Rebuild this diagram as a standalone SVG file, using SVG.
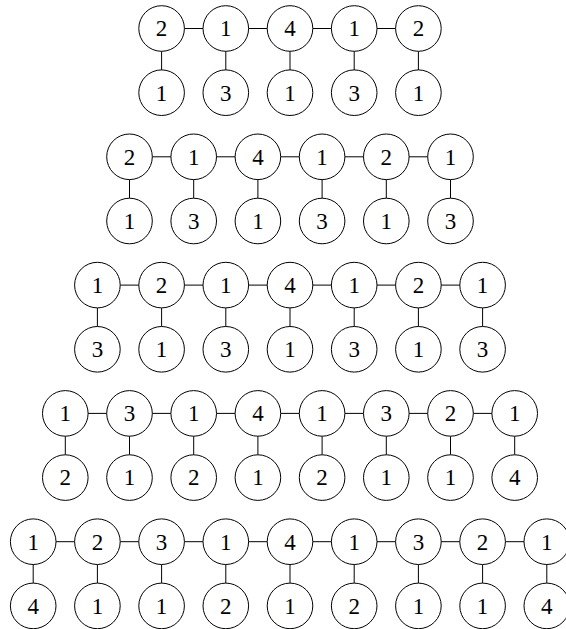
<svg xmlns="http://www.w3.org/2000/svg" width="566" height="629" viewBox="0 0 566 629">
<style>
circle{fill:#fff;stroke:#000;stroke-width:1}
text{font-family:"Liberation Serif","DejaVu Serif",serif;font-size:23px;text-anchor:middle;fill:#000}
.c{stroke:#000;stroke-width:1;fill:none}
</style>
<rect width="566" height="629" fill="#fff"/>
<g id="connectors">
<path class="c" d="M184.3 28.5h18.8m45.4 0h18.8m45.4 0h18.8m45.4 0h18.8 M161.6 51.2v18.8m64.2 -18.8v18.8m64.2 -18.8v18.8m64.2 -18.8v18.8m64.2 -18.8v18.8"/>
<path class="c" d="M152.2 156.8h18.8m45.4 0h18.8m45.4 0h18.8m45.4 0h18.8m45.4 0h18.8 M129.5 179.5v18.8m64.2 -18.8v18.8m64.2 -18.8v18.8m64.2 -18.8v18.8m64.2 -18.8v18.8m64.2 -18.8v18.8"/>
<path class="c" d="M120.1 285.1h18.8m45.4 0h18.8m45.4 0h18.8m45.4 0h18.8m45.4 0h18.8m45.4 0h18.8 M97.4 307.8v18.8m64.2 -18.8v18.8m64.2 -18.8v18.8m64.2 -18.8v18.8m64.2 -18.8v18.8m64.2 -18.8v18.8m64.2 -18.8v18.8"/>
<path class="c" d="M88 413.4h18.8m45.4 0h18.8m45.4 0h18.8m45.4 0h18.8m45.4 0h18.8m45.4 0h18.8m45.4 0h18.8 M65.3 436.1v18.8m64.2 -18.8v18.8m64.2 -18.8v18.8m64.2 -18.8v18.8m64.2 -18.8v18.8m64.2 -18.8v18.8m64.2 -18.8v18.8m64.2 -18.8v18.8"/>
<path class="c" d="M55.9 541.7h18.8m45.4 0h18.8m45.4 0h18.8m45.4 0h18.8m45.4 0h18.8m45.4 0h18.8m45.4 0h18.8m45.4 0h18.8 M33.2 564.4v18.8m64.2 -18.8v18.8m64.2 -18.8v18.8m64.2 -18.8v18.8m64.2 -18.8v18.8m64.2 -18.8v18.8m64.2 -18.8v18.8m64.2 -18.8v18.8m64.2 -18.8v18.8"/>
</g>
<!-- Row 1 -->
<g id="r1t1"><circle cx="161.6" cy="28.5" r="22.8"/><text x="161.6" y="36.3">2</text></g>
<g id="r1t2"><circle cx="225.8" cy="28.5" r="22.8"/><text x="225.8" y="36.3">1</text></g>
<g id="r1t3"><circle cx="290" cy="28.5" r="22.8"/><text x="290" y="36.3">4</text></g>
<g id="r1t4"><circle cx="354.2" cy="28.5" r="22.8"/><text x="354.2" y="36.3">1</text></g>
<g id="r1t5"><circle cx="418.4" cy="28.5" r="22.8"/><text x="418.4" y="36.3">2</text></g>
<g id="r1b1"><circle cx="161.6" cy="92.7" r="22.8"/><text x="161.6" y="100.5">1</text></g>
<g id="r1b2"><circle cx="225.8" cy="92.7" r="22.8"/><text x="225.8" y="100.5">3</text></g>
<g id="r1b3"><circle cx="290" cy="92.7" r="22.8"/><text x="290" y="100.5">1</text></g>
<g id="r1b4"><circle cx="354.2" cy="92.7" r="22.8"/><text x="354.2" y="100.5">3</text></g>
<g id="r1b5"><circle cx="418.4" cy="92.7" r="22.8"/><text x="418.4" y="100.5">1</text></g>
<!-- Row 2 -->
<g id="r2t1"><circle cx="129.5" cy="156.8" r="22.8"/><text x="129.5" y="164.6">2</text></g>
<g id="r2t2"><circle cx="193.7" cy="156.8" r="22.8"/><text x="193.7" y="164.6">1</text></g>
<g id="r2t3"><circle cx="257.9" cy="156.8" r="22.8"/><text x="257.9" y="164.6">4</text></g>
<g id="r2t4"><circle cx="322.1" cy="156.8" r="22.8"/><text x="322.1" y="164.6">1</text></g>
<g id="r2t5"><circle cx="386.3" cy="156.8" r="22.8"/><text x="386.3" y="164.6">2</text></g>
<g id="r2t6"><circle cx="450.5" cy="156.8" r="22.8"/><text x="450.5" y="164.6">1</text></g>
<g id="r2b1"><circle cx="129.5" cy="221" r="22.8"/><text x="129.5" y="228.8">1</text></g>
<g id="r2b2"><circle cx="193.7" cy="221" r="22.8"/><text x="193.7" y="228.8">3</text></g>
<g id="r2b3"><circle cx="257.9" cy="221" r="22.8"/><text x="257.9" y="228.8">1</text></g>
<g id="r2b4"><circle cx="322.1" cy="221" r="22.8"/><text x="322.1" y="228.8">3</text></g>
<g id="r2b5"><circle cx="386.3" cy="221" r="22.8"/><text x="386.3" y="228.8">1</text></g>
<g id="r2b6"><circle cx="450.5" cy="221" r="22.8"/><text x="450.5" y="228.8">3</text></g>
<!-- Row 3 -->
<g id="r3t1"><circle cx="97.4" cy="285.1" r="22.8"/><text x="97.4" y="292.9">1</text></g>
<g id="r3t2"><circle cx="161.6" cy="285.1" r="22.8"/><text x="161.6" y="292.9">2</text></g>
<g id="r3t3"><circle cx="225.8" cy="285.1" r="22.8"/><text x="225.8" y="292.9">1</text></g>
<g id="r3t4"><circle cx="290" cy="285.1" r="22.8"/><text x="290" y="292.9">4</text></g>
<g id="r3t5"><circle cx="354.2" cy="285.1" r="22.8"/><text x="354.2" y="292.9">1</text></g>
<g id="r3t6"><circle cx="418.4" cy="285.1" r="22.8"/><text x="418.4" y="292.9">2</text></g>
<g id="r3t7"><circle cx="482.6" cy="285.1" r="22.8"/><text x="482.6" y="292.9">1</text></g>
<g id="r3b1"><circle cx="97.4" cy="349.3" r="22.8"/><text x="97.4" y="357.1">3</text></g>
<g id="r3b2"><circle cx="161.6" cy="349.3" r="22.8"/><text x="161.6" y="357.1">1</text></g>
<g id="r3b3"><circle cx="225.8" cy="349.3" r="22.8"/><text x="225.8" y="357.1">3</text></g>
<g id="r3b4"><circle cx="290" cy="349.3" r="22.8"/><text x="290" y="357.1">1</text></g>
<g id="r3b5"><circle cx="354.2" cy="349.3" r="22.8"/><text x="354.2" y="357.1">3</text></g>
<g id="r3b6"><circle cx="418.4" cy="349.3" r="22.8"/><text x="418.4" y="357.1">1</text></g>
<g id="r3b7"><circle cx="482.6" cy="349.3" r="22.8"/><text x="482.6" y="357.1">3</text></g>
<!-- Row 4 -->
<g id="r4t1"><circle cx="65.3" cy="413.4" r="22.8"/><text x="65.3" y="421.2">1</text></g>
<g id="r4t2"><circle cx="129.5" cy="413.4" r="22.8"/><text x="129.5" y="421.2">3</text></g>
<g id="r4t3"><circle cx="193.7" cy="413.4" r="22.8"/><text x="193.7" y="421.2">1</text></g>
<g id="r4t4"><circle cx="257.9" cy="413.4" r="22.8"/><text x="257.9" y="421.2">4</text></g>
<g id="r4t5"><circle cx="322.1" cy="413.4" r="22.8"/><text x="322.1" y="421.2">1</text></g>
<g id="r4t6"><circle cx="386.3" cy="413.4" r="22.8"/><text x="386.3" y="421.2">3</text></g>
<g id="r4t7"><circle cx="450.5" cy="413.4" r="22.8"/><text x="450.5" y="421.2">2</text></g>
<g id="r4t8"><circle cx="514.7" cy="413.4" r="22.8"/><text x="514.7" y="421.2">1</text></g>
<g id="r4b1"><circle cx="65.3" cy="477.6" r="22.8"/><text x="65.3" y="485.4">2</text></g>
<g id="r4b2"><circle cx="129.5" cy="477.6" r="22.8"/><text x="129.5" y="485.4">1</text></g>
<g id="r4b3"><circle cx="193.7" cy="477.6" r="22.8"/><text x="193.7" y="485.4">2</text></g>
<g id="r4b4"><circle cx="257.9" cy="477.6" r="22.8"/><text x="257.9" y="485.4">1</text></g>
<g id="r4b5"><circle cx="322.1" cy="477.6" r="22.8"/><text x="322.1" y="485.4">2</text></g>
<g id="r4b6"><circle cx="386.3" cy="477.6" r="22.8"/><text x="386.3" y="485.4">1</text></g>
<g id="r4b7"><circle cx="450.5" cy="477.6" r="22.8"/><text x="450.5" y="485.4">1</text></g>
<g id="r4b8"><circle cx="514.7" cy="477.6" r="22.8"/><text x="514.7" y="485.4">4</text></g>
<!-- Row 5 -->
<g id="r5t1"><circle cx="33.2" cy="541.7" r="22.8"/><text x="33.2" y="549.5">1</text></g>
<g id="r5t2"><circle cx="97.4" cy="541.7" r="22.8"/><text x="97.4" y="549.5">2</text></g>
<g id="r5t3"><circle cx="161.6" cy="541.7" r="22.8"/><text x="161.6" y="549.5">3</text></g>
<g id="r5t4"><circle cx="225.8" cy="541.7" r="22.8"/><text x="225.8" y="549.5">1</text></g>
<g id="r5t5"><circle cx="290" cy="541.7" r="22.8"/><text x="290" y="549.5">4</text></g>
<g id="r5t6"><circle cx="354.2" cy="541.7" r="22.8"/><text x="354.2" y="549.5">1</text></g>
<g id="r5t7"><circle cx="418.4" cy="541.7" r="22.8"/><text x="418.4" y="549.5">3</text></g>
<g id="r5t8"><circle cx="482.6" cy="541.7" r="22.8"/><text x="482.6" y="549.5">2</text></g>
<g id="r5t9"><circle cx="546.8" cy="541.7" r="22.8"/><text x="546.8" y="549.5">1</text></g>
<g id="r5b1"><circle cx="33.2" cy="605.9" r="22.8"/><text x="33.2" y="613.7">4</text></g>
<g id="r5b2"><circle cx="97.4" cy="605.9" r="22.8"/><text x="97.4" y="613.7">1</text></g>
<g id="r5b3"><circle cx="161.6" cy="605.9" r="22.8"/><text x="161.6" y="613.7">1</text></g>
<g id="r5b4"><circle cx="225.8" cy="605.9" r="22.8"/><text x="225.8" y="613.7">2</text></g>
<g id="r5b5"><circle cx="290" cy="605.9" r="22.8"/><text x="290" y="613.7">1</text></g>
<g id="r5b6"><circle cx="354.2" cy="605.9" r="22.8"/><text x="354.2" y="613.7">2</text></g>
<g id="r5b7"><circle cx="418.4" cy="605.9" r="22.8"/><text x="418.4" y="613.7">1</text></g>
<g id="r5b8"><circle cx="482.6" cy="605.9" r="22.8"/><text x="482.6" y="613.7">1</text></g>
<g id="r5b9"><circle cx="546.8" cy="605.9" r="22.8"/><text x="546.8" y="613.7">4</text></g>
</svg>
